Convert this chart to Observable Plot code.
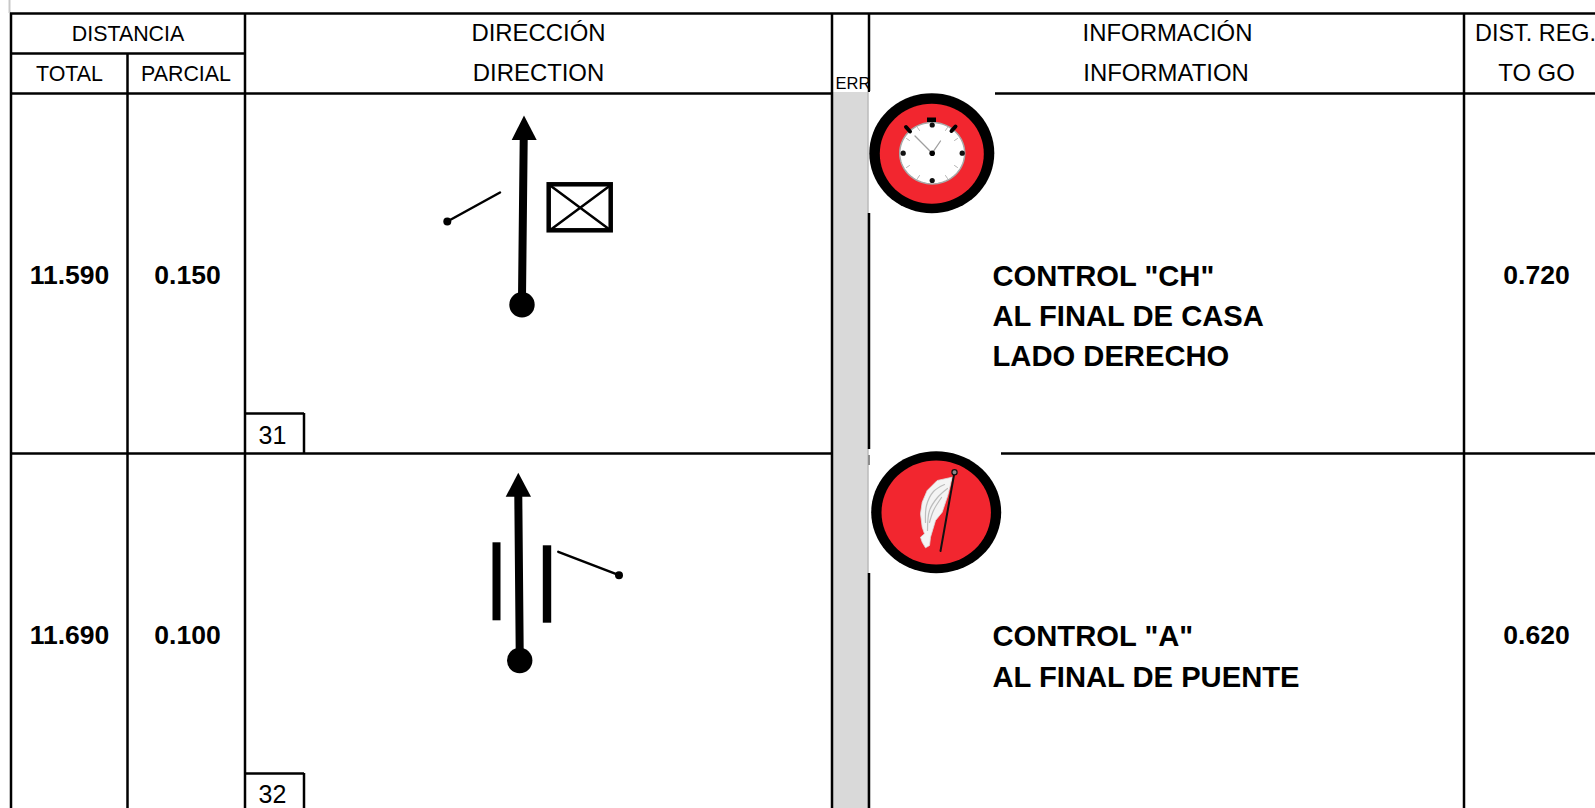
<!DOCTYPE html>
<html>
<head>
<meta charset="utf-8">
<style>html,body{margin:0;padding:0;background:#fff;overflow:hidden}svg{display:block}</style>
<script src="https://cdn.jsdelivr.net/npm/d3@7"></script>
<script src="https://cdn.jsdelivr.net/npm/@observablehq/plot@0.6"></script>
</head>
<body>
<div id="chart"></div>
<script>
const FONT = "'Liberation Sans', Arial, sans-serif";
// Table text
const smallHeaders = [
  {t:"DISTANCIA", x:127.5, y:33.5}, {t:"TOTAL", x:69, y:73.5}, {t:"PARCIAL", x:185.5, y:73.5}
];
const largeHeaders = [
  {t:"DIRECCIÓN", x:538, y:32.5}, {t:"DIRECTION", x:538, y:72.5},
  {t:"INFORMACIÓN", x:1167, y:32.5}, {t:"INFORMATION", x:1165.5, y:72.5},
  {t:"TO GO", x:1536, y:72.5}
];
const cutHeader = [{t:"DIST. REG.", x:1535, y:32.5}];
const rowValues = [
  {t:"11.590", x:69, y:275.5}, {t:"0.150", x:187, y:275.5}, {t:"0.720", x:1536, y:275.5},
  {t:"11.690", x:69, y:635}, {t:"0.100", x:187, y:635}, {t:"0.620", x:1536, y:635}
];
const infoLines = [
  {t:"CONTROL \"CH\"", x:992, y:276}, {t:"AL FINAL DE CASA", x:992, y:316}, {t:"LADO DERECHO", x:992, y:356},
  {t:"CONTROL \"A\"", x:992, y:636}, {t:"AL FINAL DE PUENTE", x:992, y:677}
];
const boxLabels = [{t:"31", x:272, y:435}, {t:"32", x:272, y:794}];
const errLabel = [{t:"ERR", x:835, y:83.5}];
// Grid
const hRules = [
  {y:13, x1:10, x2:1596}, {y:53, x1:10, x2:245}, {y:93, x1:10, x2:832}, {y:93, x1:995, x2:1596},
  {y:453, x1:10, x2:832}, {y:453, x1:1001, x2:1596},
  {y:413, x1:245, x2:304}, {y:773, x1:245, x2:304}
];
const vRules = [
  {x:10.5, y1:13, y2:809}, {x:127, y1:53, y2:809}, {x:244.5, y1:13, y2:809}, {x:831.5, y1:13, y2:809},
  {x:868.5, y1:13, y2:92}, {x:868.5, y1:213, y2:449}, {x:868.5, y1:573, y2:809}, {x:1463.5, y1:13, y2:809},
  {x:303.5, y1:413, y2:453}, {x:303.5, y1:773, y2:809}
];
const errColumn = [{x1:833, x2:867.5, y1:92, y2:809}];
const errEdge = [{x:867.5, y1:92, y2:809}];
const pageEdge = [{x:9, y1:0, y2:13}];
const stubTick = [{x:868.5, y1:455, y2:465}];
// Route diagrams
const shafts = [
  {id:1, pts:[[523.2,139],[521.5,297]]}, {id:2, pts:[[517.8,496],[519.2,652]]}
];
const heads = [
  {id:1, pts:[[523.5,115],[536.2,139.5],[511.2,139.5]]}, {id:2, pts:[[517.8,472.3],[530.5,496.3],[505.2,496.3]]}
];
const balls = [{x:521.5, y:304.3}, {x:519.2, y:660}];
const sideRoads = [
  {id:1, pts:[[446.8,221],[499.5,192]]}, {id:2, pts:[[557.8,551.3],[618.5,574.7]]}
];
const sideDots = [{x:446.8, y:221}, {x:618.5, y:574.7}];
const bars = [{x1:492.5, x2:500.5, y1:542.3, y2:620.3}, {x1:542.8, x2:551.2, y1:545.3, y2:622.7}];
const house = [{x1:548.7, x2:610.7, y1:184.3, y2:230.3}];
const houseCross = [
  {id:1, pts:[[548.7,184.3],[610.7,230.3]]}, {id:2, pts:[[610.7,184.3],[548.7,230.3]]}
];
// Icons
const iconPatches = [{x1:870, x2:995, y1:91, y2:213}, {x1:870, x2:1001, y1:449, y2:573}];
const iconOuter = [
  {id:1, cx:931.3, cy:152.7, rx:62.5, ry:60}, {id:2, cx:935.7, cy:511.7, rx:65, ry:61}
];
const iconInner = [
  {id:1, cx:931.3, cy:153.3, rx:52, ry:50}, {id:2, cx:935.7, cy:512, rx:54.7, ry:52}
];
const clockFace = [{id:1, cx:931.7, cy:152.7, rx:32.5, ry:30.7}];
const clockDots = [
  {x:931.7, y:124.5}, {x:961.7, y:152.7}, {x:931.7, y:180}, {x:902.7, y:152.7}
];
const clockCrown = [{x1:927, x2:936, y1:117.5, y2:122}];
const clockPushers = [
  {id:1, pts:[[905.5,126.5],[909.5,131]]}, {id:2, pts:[[955,126],[951,130.5]]}
];
const clockHands = [
  {id:1, pts:[[931.7,152.7],[914.5,135.5]]}, {id:2, pts:[[931.7,152.7],[940,140.5]]}
];
const clockCentre = [{x:931.7, y:152.7}];
const clockTicks = [
  {a:[947,127],b:[945,130]},{a:[957,138],b:[954,140]},{a:[957,167],b:[954,165]},{a:[947,178],b:[945,175]},
  {a:[917,178],b:[919,175]},{a:[906,167],b:[909,165]},{a:[906,138],b:[909,140]},{a:[917,127],b:[919,130]}
].flatMap((d,i)=>[{id:i,p:d.a},{id:i,p:d.b}]);
const flagPole = [[954,471.7],[940,550.5]];
const flagKnob = [{x:954, y:471.7}];
const flagCloth = [[951.7,476.7],[936.7,480],[926.7,490],[921.7,501.7],[920,513.3],[921.7,526.7],[924,533.3],[920,536.7],[921.7,541.7],[925,547.3],[929,545],[930,536.7],[935,520],[941.7,511.7],[947.3,495]];
const flagFeathers = [
  {id:1, pts:[[944,484],[933,491],[926,505],[925,522]]},
  {id:2, pts:[[947,488],[937,497],[929,510],[927,530]]},
  {id:3, pts:[[941,497],[933,510],[929,522]]}
];

const lines = (data, extra) => Plot.line(
  data.flatMap(d => d.pts.map(p => ({id:d.id, x:p[0], y:p[1]}))),
  {x:"x", y:"y", z:"id", ...extra}
);
const polys = (data, fill) => Plot.line(
  data.flatMap(d => [...d.pts, d.pts[0]].map(p => ({id:d.id, x:p[0], y:p[1]}))),
  {x:"x", y:"y", z:"id", fill, stroke:"none"}
);
const ovals = (data, extra) => Plot.line(
  data.flatMap(d => d3.range(0, 73).map(k => ({
    id:d.id,
    x:d.cx + d.rx * Math.cos(k * Math.PI / 36),
    y:d.cy + d.ry * Math.sin(k * Math.PI / 36)
  }))),
  {x:"x", y:"y", z:"id", ...extra}
);
const labels = (data, size, weight, extra = {}) => Plot.text(data, {
  x:"x", y:"y", text:"t", fontSize:size, fontWeight:weight, fontFamily:FONT, fill:"#000",
  textAnchor:"middle", lineAnchor:"middle", ...extra
});

const chart = Plot.plot({
  width:1595, height:808,
  marginTop:0, marginRight:0, marginBottom:0, marginLeft:0,
  style:{background:"#fff", overflow:"hidden"},
  x:{type:"linear", domain:[0,1595], range:[0,1595], axis:null},
  y:{type:"linear", domain:[0,808], range:[0,808], axis:null},
  marks:[
    // grid
    Plot.rect(errColumn, {x1:"x1", x2:"x2", y1:"y1", y2:"y2", fill:"#d9d9d9"}),
    Plot.ruleX(errEdge, {x:"x", y1:"y1", y2:"y2", stroke:"#9a9a9a", strokeWidth:1}),
    Plot.ruleX(pageEdge, {x:"x", y1:"y1", y2:"y2", stroke:"#c8c8c8", strokeWidth:2}),
    Plot.ruleX(vRules, {x:"x", y1:"y1", y2:"y2", stroke:"#000", strokeWidth:2.5}),
    Plot.ruleY(hRules, {y:"y", x1:"x1", x2:"x2", stroke:"#000", strokeWidth:2.5}),
    Plot.ruleX(stubTick, {x:"x", y1:"y1", y2:"y2", stroke:"#8c8c8c", strokeWidth:2}),
    // text
    labels(smallHeaders, 21.4, 400),
    labels(largeHeaders, 23.9, 400),
    labels(cutHeader, 23.4, 400),
    labels(errLabel, 16.5, 400, {textAnchor:"start"}),
    labels(rowValues, 26.5, 700),
    labels(infoLines, 29.2, 700, {textAnchor:"start"}),
    labels(boxLabels, 25, 400),
    // route diagrams
    lines(shafts, {stroke:"#000", strokeWidth:8}),
    polys(heads, "#000"),
    Plot.dot(balls, {x:"x", y:"y", r:12.7, fill:"#000"}),
    lines(sideRoads, {stroke:"#000", strokeWidth:2.5}),
    Plot.dot(sideDots, {x:"x", y:"y", r:4, fill:"#000"}),
    Plot.rect(bars, {x1:"x1", x2:"x2", y1:"y1", y2:"y2", fill:"#000"}),
    lines(houseCross, {stroke:"#000", strokeWidth:2.5}),
    Plot.rect(house, {x1:"x1", x2:"x2", y1:"y1", y2:"y2", fill:"none", stroke:"#000", strokeWidth:4.5}),
    // icons
    Plot.rect(iconPatches, {x1:"x1", x2:"x2", y1:"y1", y2:"y2", fill:"#fff"}),
    ovals(iconOuter, {fill:"#000", stroke:"none"}),
    ovals(iconInner, {fill:"#f2262f", stroke:"none"}),
    ovals(clockFace, {fill:"#fff", stroke:"#a8a8a8", strokeWidth:1.5}),
    Plot.line(clockTicks, {x:d=>d.p[0], y:d=>d.p[1], z:"id", stroke:"#b5b5b5", strokeWidth:1}),
    Plot.dot(clockDots, {x:"x", y:"y", r:2.6, fill:"#111"}),
    Plot.rect(clockCrown, {x1:"x1", x2:"x2", y1:"y1", y2:"y2", fill:"#000"}),
    lines(clockPushers, {stroke:"#000", strokeWidth:4}),
    lines(clockHands, {stroke:"#9f9f9f", strokeWidth:1.3}),
    Plot.dot(clockCentre, {x:"x", y:"y", r:2.8, fill:"#000"}),
    Plot.line([...flagCloth, flagCloth[0]], {x:d=>d[0], y:d=>d[1], fill:"#f4f4f4", stroke:"#dcdcdc", strokeWidth:0.8}),
    lines(flagFeathers, {stroke:"#bdbdbd", strokeWidth:1.2, curve:"catmull-rom"}),
    Plot.line(flagPole, {x:d=>d[0], y:d=>d[1], stroke:"#111", strokeWidth:2}),
    Plot.dot(flagKnob, {x:"x", y:"y", r:2.6, fill:"#8a8a8a", stroke:"#111", strokeWidth:1.2})
  ]
});
document.getElementById("chart").appendChild(chart);
</script>
</body>
</html>
